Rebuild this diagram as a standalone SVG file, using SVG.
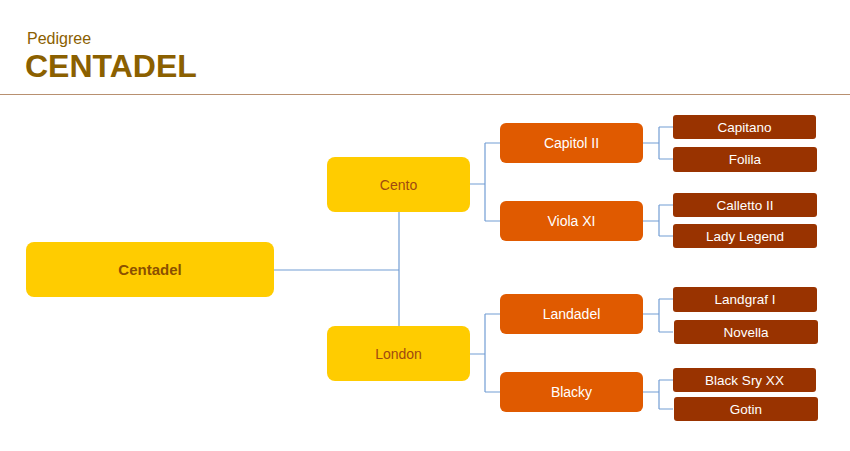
<svg xmlns="http://www.w3.org/2000/svg" width="850" height="451" viewBox="0 0 850 451">
<style>
text{font-family:"Liberation Sans",Arial,sans-serif;text-anchor:middle;dominant-baseline:central}
.y{fill:#FFCC00}
.o{fill:#E05A00}
.b{fill:#993300}
.ty{fill:#A04A10;font-size:14px}
.tw{fill:#FFFFFF;font-size:14px}
.tb{fill:#FFFFFF;font-size:13.5px}
.c{fill:none;stroke:#729DD4;stroke-width:1.2}
</style>
<rect width="850" height="451" fill="#FFFFFF"/>
<g id="header">
<text x="27" y="38" style="text-anchor:start;font-size:16px;fill:#8B6000">Pedigree</text>
<text x="25" y="66" style="text-anchor:start;font-size:32px;font-weight:bold;fill:#8B6000">CENTADEL</text>
<line x1="0" y1="94.5" x2="850" y2="94.5" stroke="#B89070" stroke-width="1"/>
</g>
<g id="connectors" class="c">
<path d="M274 270H399M399 212V326"/>
<path d="M470 184H485M485 143V221M485 143H500M485 221H500"/>
<path d="M470 354H485M485 314V392M485 314H500M485 392H500"/>
<path d="M643 143H659M659 127V159M659 127H673M659 159H673"/>
<path d="M643 221H659M659 205V236M659 205H673M659 236H673"/>
<path d="M643 314H659M659 299V332M659 299H673M659 332H673"/>
<path d="M643 392H659M659 380V409M659 380H673M659 409H673"/>
</g>
<g id="n-centadel"><rect class="y" x="26" y="242" width="248" height="55" rx="8"/><text class="ty" x="150" y="269.5" style="font-weight:bold;font-size:15px;fill:#8B5000">Centadel</text></g>
<g id="n-cento"><rect class="y" x="327" y="157" width="143" height="55" rx="8"/><text class="ty" x="398.5" y="184.5">Cento</text></g>
<g id="n-london"><rect class="y" x="327" y="326" width="143" height="55" rx="8"/><text class="ty" x="398.5" y="353.5">London</text></g>
<g id="n-capitol"><rect class="o" x="500" y="123" width="143" height="40" rx="6"/><text class="tw" x="571.5" y="143">Capitol II</text></g>
<g id="n-viola"><rect class="o" x="500" y="201" width="143" height="40" rx="6"/><text class="tw" x="571.5" y="221">Viola XI</text></g>
<g id="n-landadel"><rect class="o" x="500" y="294" width="143" height="40" rx="6"/><text class="tw" x="571.5" y="314">Landadel</text></g>
<g id="n-blacky"><rect class="o" x="500" y="372" width="143" height="40" rx="6"/><text class="tw" x="571.5" y="392">Blacky</text></g>
<g id="n-capitano"><rect class="b" x="673" y="115" width="143" height="24" rx="3"/><text class="tb" x="744.5" y="127">Capitano</text></g>
<g id="n-folila"><rect class="b" x="673" y="147" width="144" height="25" rx="3"/><text class="tb" x="745" y="159">Folila</text></g>
<g id="n-calletto"><rect class="b" x="673" y="193" width="144" height="24" rx="3"/><text class="tb" x="745" y="205">Calletto II</text></g>
<g id="n-lady"><rect class="b" x="673" y="224" width="144" height="24" rx="3"/><text class="tb" x="745" y="236">Lady Legend</text></g>
<g id="n-landgraf"><rect class="b" x="673" y="287" width="144" height="25" rx="3"/><text class="tb" x="745" y="299">Landgraf I</text></g>
<g id="n-novella"><rect class="b" x="674" y="320" width="144" height="24" rx="3"/><text class="tb" x="746" y="332">Novella</text></g>
<g id="n-blacksry"><rect class="b" x="673" y="368" width="143" height="24" rx="3"/><text class="tb" x="744.5" y="380">Black Sry XX</text></g>
<g id="n-gotin"><rect class="b" x="674" y="397" width="144" height="24" rx="3"/><text class="tb" x="746" y="409">Gotin</text></g>
</svg>
